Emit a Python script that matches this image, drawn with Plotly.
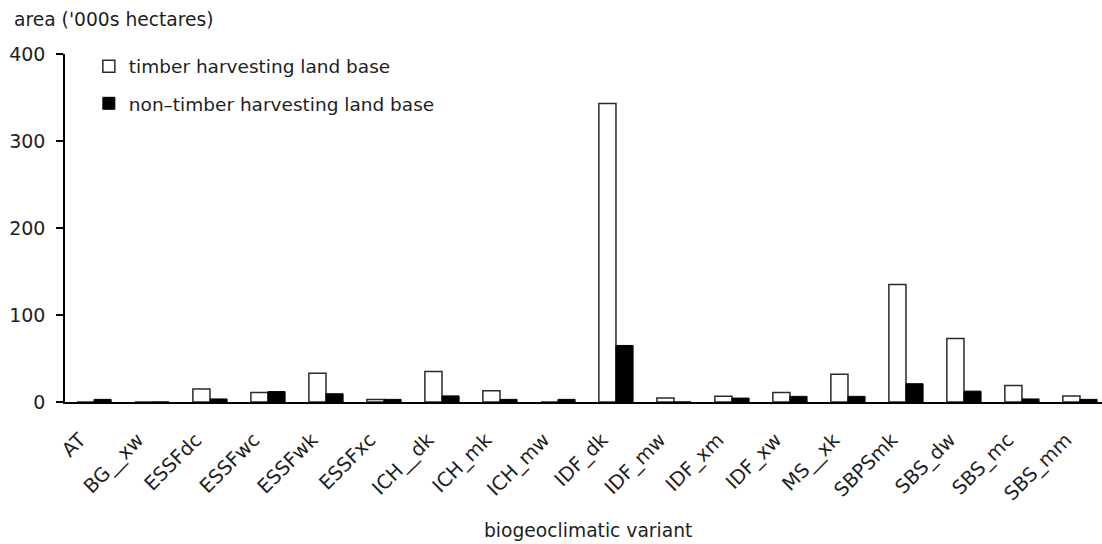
import plotly.graph_objects as go

# Biogeoclimatic variants and area ('000s ha) in each land-base class
variants = ["AT", "BG__xw", "ESSFdc", "ESSFwc", "ESSFwk", "ESSFxc", "ICH__dk", "ICH_mk",
            "ICH_mw", "IDF_dk", "IDF_mw", "IDF_xm", "IDF_xw", "MS__xk", "SBPSmk",
            "SBS_dw", "SBS_mc", "SBS_mm"]
thlb = [0, 0, 15, 11, 33, 3, 35, 13, 0, 343, 4.5, 6.5, 11, 32, 135, 73, 19, 7]
non_thlb = [3, 0, 3.5, 12, 9.5, 3, 7, 3, 3, 65, 0, 4.5, 6.5, 6.5, 21, 12.5, 3.5, 3]
y_ticks = [0, 100, 200, 300, 400]

FONT = "DejaVu Sans"
INK = "#1e1e1e"

fig = go.Figure()
fig.add_trace(go.Bar(
    x=variants, y=thlb, name="timber harvesting land base",
    marker=dict(color="white", line=dict(color="#2a2a2a", width=1.5)),
    legendgroup="a",
))
fig.add_trace(go.Bar(
    x=variants, y=non_thlb, name="non\u2013timber harvesting land base",
    marker=dict(color="black", line=dict(color="black", width=1)),
    legendgroup="b",
))

fig.update_layout(
    width=1102, height=544,
    margin=dict(l=65, r=0, t=54, b=142, pad=0),
    paper_bgcolor="white", plot_bgcolor="white",
    font=dict(family=FONT, size=18.5, color=INK),
    barmode="group", bargap=0.41, bargroupgap=0,
    showlegend=True,
    legend=dict(
        x=0.023, y=1.018, xanchor="left", yanchor="top",
        bgcolor="rgba(0,0,0,0)", borderwidth=0,
        font=dict(family=FONT, size=18.5, color=INK),
        itemwidth=30, tracegroupgap=10, traceorder="grouped",
    ),
    xaxis=dict(
        type="category", range=[-0.5, 17.38],
        showline=True, linecolor="black", linewidth=1.5,
        ticks="", tickangle=-45, ticklabelstandoff=17, ticklabelshift=-14,
        tickfont=dict(family=FONT, size=19.5, color=INK),
        showgrid=False, zeroline=False, fixedrange=True,
    ),
    yaxis=dict(
        range=[0, 400], tickvals=y_ticks,
        showline=True, linecolor="black", linewidth=1.5,
        ticks="outside", ticklen=7, tickwidth=1.5, tickcolor="black",
        ticklabelstandoff=7,
        tickfont=dict(family=FONT, size=19, color=INK),
        showgrid=False, zeroline=False, fixedrange=True,
    ),
    annotations=[
        dict(text="area ('000s hectares)", xref="paper", yref="paper",
             x=-0.0511, y=1.099, xanchor="left", yanchor="middle",
             showarrow=False, font=dict(family=FONT, size=18.7, color=INK)),
        dict(text="biogeoclimatic variant", xref="paper", yref="paper",
             x=0.5043, y=-0.369, xanchor="center", yanchor="middle",
             showarrow=False, font=dict(family=FONT, size=18.7, color=INK)),
    ],
)

fig.write_html("out.html")
